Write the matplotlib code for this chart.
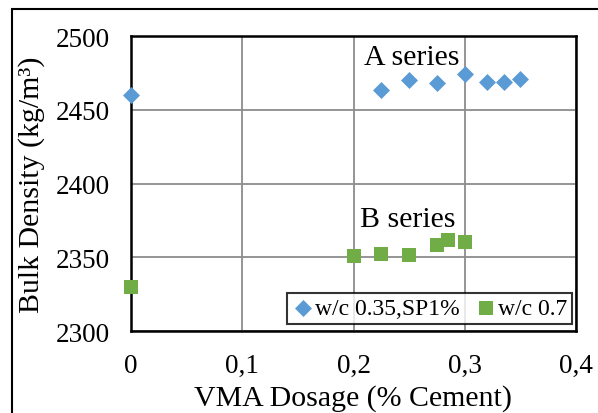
import matplotlib
matplotlib.use("Agg")
import matplotlib.pyplot as plt
from matplotlib.patches import Rectangle

plt.rcParams["font.family"] = ["Liberation Serif", "DejaVu Serif"]

# A series: w/c 0.35, SP1%
a_dosage = [0.0, 0.225, 0.25, 0.275, 0.30, 0.32, 0.335, 0.35]
a_density = [2460, 2463.5, 2470, 2468, 2474, 2468.5, 2468.5, 2471]

# B series: w/c 0.7
b_dosage = [0.0, 0.20, 0.225, 0.25, 0.275, 0.285, 0.30]
b_density = [2329.5, 2351, 2352, 2351.5, 2358.5, 2362, 2360.5]

xticks = [0, 0.1, 0.2, 0.3, 0.4]
xtick_labels = ["0", "0,1", "0,2", "0,3", "0,4"]
yticks = [2300, 2350, 2400, 2450, 2500]

W, H = 598, 414
fig = plt.figure(figsize=(W / 100, H / 100), dpi=100)
ax = fig.add_axes([131 / W, 1 - 332 / H, (576 - 131) / W, (332 - 37) / H])

ax.scatter(a_dosage, a_density, marker="D", s=75, color="#5B9BD5",
           label="w/c 0.35,SP1%", zorder=3, clip_on=False, linewidths=0)
ax.scatter(b_dosage, b_density, marker="s", s=110, color="#70AD47",
           label="w/c 0.7", zorder=3, clip_on=False, linewidths=0)

ax.set_xlim(0, 0.4)
ax.set_ylim(2300, 2500)
ax.set_xticks(xticks)
ax.set_xticklabels(xtick_labels)
ax.set_yticks(yticks)
ax.tick_params(length=0, labelsize=19.5)
ax.tick_params(axis="x", pad=16)
ax.tick_params(axis="y", pad=15)
ax.grid(True, color="#8c8c8c", lw=1.3)
ax.set_axisbelow(True)
for s in ax.spines.values():
    s.set_linewidth(1.8)
    s.set_color("black")

ax.set_xlabel("VMA Dosage (% Cement)", fontsize=21.5, labelpad=4)
ax.set_ylabel("Bulk Density (kg/m³)", fontsize=21.5, labelpad=8)

ax.text(0.252, 2481, "A series", fontsize=21.5, ha="center", va="baseline")
ax.text(0.249, 2371, "B series", fontsize=21.5, ha="center", va="baseline")

leg = ax.legend(loc="lower right", bbox_to_anchor=(0.99, 0.025), ncol=2,
                fontsize=17, frameon=True, fancybox=False, handletextpad=0.0,
                columnspacing=0.6, handlelength=1.0, borderpad=0.2,
                borderaxespad=0)
leg.get_frame().set_edgecolor("black")
leg.get_frame().set_linewidth(1.5)

# outer chart border (cut off at right and bottom)
fig.patches.append(Rectangle((12 / W, -0.1), 1.2, 1 - 10 / H + 0.1,
                             transform=fig.transFigure, fill=False,
                             edgecolor="black", lw=1.5))

fig.savefig("out.png", dpi=100)
